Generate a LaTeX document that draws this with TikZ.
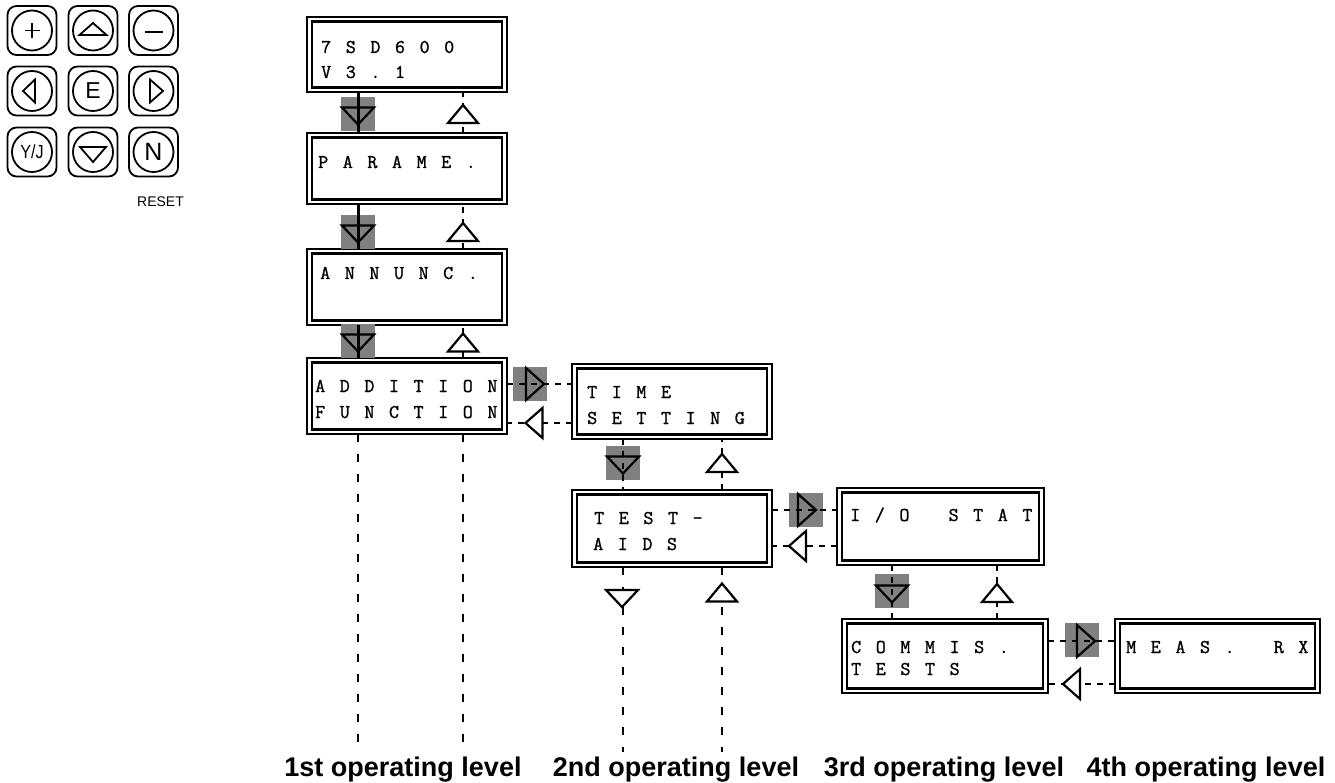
\documentclass[tikz,border=0pt]{standalone}
\usepackage{fontspec}
\setsansfont{Liberation Sans}
\newfontfamily\lcdfont{Latin Modern Mono}[FakeBold=1.2]
\usetikzlibrary{calc}
\makeatletter
\newcommand\lcdtext[1]{\@tfor\lcd@ch:=#1\do{\makebox[24.6pt][l]{\lcd@ch}}}
\makeatother
\tikzset{
  lcdouter/.style={draw, line width=1.7pt, inner sep=0, outer sep=0, anchor=north west},
  lcdinner/.style={line width=2.6pt},
  lcd/.style={font=\lcdfont\fontsize{19.5}{19.5}\selectfont, inner sep=0, anchor=base west},
  key/.style={draw, line width=1.8pt, rounded corners=9pt, minimum width=49pt, minimum height=49pt, inner sep=0},
  keyc/.style={draw, circle, line width=1.8pt, minimum size=40pt, inner sep=0, font=\sffamily\fontsize{23}{23}\selectfont},
  keysym/.style={line width=1.8pt, line join=miter},
  graysq/.style={fill=black!50, minimum size=34pt, inner sep=0, outer sep=0},
  tri/.style={line width=2.2pt, line join=miter},
  thickconn/.style={line width=3pt},
  dashconn/.style={line width=2.2pt, dash pattern=on 6pt off 6pt},
  levelline/.style={line width=2.2pt, dash pattern=on 8pt off 12pt},
  lbl/.style={font=\sffamily\bfseries\fontsize{27}{27}\selectfont, inner sep=0, anchor=base},
  pics/tdown/.style={code={\draw[tri,fill=#1] (-16,-8.5) -- (16,-8.5) -- (0,8.5) -- cycle;}},
  pics/tdown/.default=white,
  pics/tup/.style={code={\draw[tri,fill=#1] (-15,9) -- (15,9) -- (0,-9) -- cycle;}},
  pics/tup/.default=white,
  pics/tright/.style={code={\draw[tri,fill=#1] (-9,-16) -- (-9,16) -- (9,0) -- cycle;}},
  pics/tright/.default=white,
  pics/tleft/.style={code={\draw[tri,fill=#1] (8.5,-15) -- (8.5,15) -- (-8.5,0) -- cycle;}},
  pics/tleft/.default=white,
}
\newcommand\lcdbox[5]{%
  \node[lcdouter, minimum width=#4pt, minimum height=#5pt] (#1) at (#2,#3) {};
  \draw[lcdinner] ($(#1.north west)+(5,4.5)$) rectangle ($(#1.south east)+(-5,-4.5)$);}
\begin{document}
\begin{tikzpicture}[x=1pt,y=-1pt]
\useasboundingbox (0,0) rectangle (1335,783);

% ---------------- keypad ----------------
\foreach \n/\x/\y in {1/32/30.5,2/93/30.5,3/153.5/30.5,4/32/91,5/93/91,6/153.5/91,7/32/152,8/93/152,9/153.5/152}{
  \node[key] (k\n) at (\x,\y) {};
}
\node[keyc] (c1) at (k1) {};
\node[keyc] (c2) at (k2) {};
\node[keyc] (c3) at (k3) {};
\node[keyc] (c4) at (k4) {};
\node[keyc] (c5) at (k5) {E};
\node[keyc] (c6) at (k6) {};
\node[keyc,font=\sffamily\fontsize{19}{19}\selectfont] (c7) at (k7) {\scalebox{0.85}[1]{Y/J}};
\node[keyc] (c8) at (k8) {};
\node[keyc,font=\sffamily\fontsize{25}{25}\selectfont] (c9) at (k9) {N};
\draw[keysym] ($(c1)+(-7.5,0)$) -- ($(c1)+(7.5,0)$);
\draw[keysym] ($(c1)+(0,-7.5)$) -- ($(c1)+(0,7.5)$);
\draw[keysym] ($(c3)+(-9,1.5)$) -- ($(c3)+(9,1.5)$);
\draw[keysym] ($(c2)+(-13.5,4.5)$) -- ($(c2)+(13.5,4.5)$) -- ($(c2)+(0,-7.5)$) -- cycle;
\draw[keysym] ($(c4)+(-9,0)$) -- ($(c4)+(3,-11.5)$) -- ($(c4)+(3,11.5)$) -- cycle;
\draw[keysym] ($(c6)+(9.5,0)$) -- ($(c6)+(-3.5,-11.5)$) -- ($(c6)+(-3.5,11.5)$) -- cycle;
\draw[keysym] ($(c8)+(-13,-5)$) -- ($(c8)+(13,-5)$) -- ($(c8)+(0,10)$) -- cycle;
\node[font=\sffamily\fontsize{14}{14}\selectfont, inner sep=0] (reset) at (160.5,202) {RESET};

% ---------------- display boxes ----------------
\lcdbox{b1}{307}{17}{200}{75}
\lcdbox{b2}{307}{133}{200}{71}
\lcdbox{b3}{307}{249}{200}{76}
\lcdbox{b4}{307}{358}{200}{76}
\lcdbox{b5}{572}{364}{200}{75}
\lcdbox{b6}{572}{490}{200}{77}
\lcdbox{b7}{837}{488}{207}{77}
\lcdbox{b8}{842}{619}{206}{74}
\lcdbox{b9}{1115}{619}{205}{74}

\node[lcd] (t1a) at (321,53) {\lcdtext{7SD600}};
\node[lcd] (t1b) at (321,78) {\lcdtext{V3.1}};
\node[lcd] (t2) at (318,168) {\lcdtext{PARAME.}};
\node[lcd] (t3) at (320,279) {\lcdtext{ANNUNC.}};
\node[lcd] (t4a) at (315,392) {\lcdtext{ADDITION}};
\node[lcd] (t4b) at (315,418) {\lcdtext{FUNCTION}};
\node[lcd] (t5a) at (587,398) {\lcdtext{TIME}};
\node[lcd] (t5b) at (587,424) {\lcdtext{SETTING}};
\node[lcd] (t6a) at (594,524) {\lcdtext{TEST-}};
\node[lcd] (t6b) at (593,550) {\lcdtext{AIDS}};
\node[lcd] (t7) at (850,521) {\lcdtext{I/O~STAT}};
\node[lcd] (t8a) at (851,653) {\lcdtext{COMMIS.}};
\node[lcd] (t8b) at (851,675) {\lcdtext{TESTS}};
\node[lcd] (t9) at (1126,653) {\lcdtext{MEAS.~RX}};

% ---------------- gray key squares ----------------
\node[graysq] (g1) at (358,114) {};
\node[graysq] (g2) at (358,232) {};
\node[graysq] (g3) at (358,341) {};
\node[graysq] (gr1) at (530,384) {};
\node[graysq] (g4) at (623,463) {};
\node[graysq] (gr2) at (806,510) {};
\node[graysq] (g5) at (892,591) {};
\node[graysq] (gr3) at (1082,640) {};

% ---------------- connectors ----------------
% level 1
\draw[thickconn] ($(b1.south west)+(51,0)$) -- ($(b2.north west)+(51,0)$);
\draw[thickconn] ($(b2.south west)+(51,0)$) -- ($(b3.north west)+(51,0)$);
\draw[thickconn] ($(b3.south west)+(51,0)$) -- ($(b4.north west)+(51,0)$);
\draw[dashconn] ($(b2.north west)+(156,0)$) -- ($(b1.south west)+(156,0)$);
\draw[dashconn] ($(b3.north west)+(156,0)$) -- ($(b2.south west)+(156,0)$);
\draw[dashconn] ($(b4.north west)+(156,0)$) -- ($(b3.south west)+(156,0)$);
\coordinate (e1a) at (358,745);
\coordinate (e1b) at (463,745);
\draw[levelline] ($(b4.south west)+(51,0)$) -- (e1a);
\draw[levelline] ($(b4.south west)+(156,0)$) -- (e1b);
% level 1 <-> 2
\draw[dashconn,line width=2.6pt] ($(b4.north east)+(0,26)$) -- ($(b5.north west)+(0,20)$);
\draw[dashconn] ($(b5.north west)+(0,59)$) -- ($(b4.north east)+(0,65)$);
% level 2
\draw[dashconn] ($(b5.south west)+(51,0)$) -- ($(b6.north west)+(51,0)$);
\draw[dashconn] ($(b6.north west)+(150,0)$) -- ($(b5.south west)+(150,0)$);
\coordinate (e2a) at (623,752);
\coordinate (e2b) at (722,752);
\draw[levelline] ($(b6.south west)+(51,0)$) -- (e2a);
\draw[levelline] ($(b6.south west)+(150,0)$) -- (e2b);
% level 2 <-> 3
\draw[dashconn] ($(b6.north east)+(0,20)$) -- ($(b7.north west)+(0,22)$);
\draw[dashconn] ($(b7.north west)+(0,58)$) -- ($(b6.north east)+(0,56)$);
% level 3
\draw[dashconn] ($(b7.south west)+(55,0)$) -- ($(b8.north west)+(50,0)$);
\draw[dashconn] ($(b8.north west)+(155,0)$) -- ($(b7.south west)+(160,0)$);
% level 3 <-> 4
\draw[dashconn] ($(b8.north east)+(0,22)$) -- ($(b9.north west)+(0,22)$);
\draw[dashconn] ($(b9.north west)+(0,65)$) -- ($(b8.north east)+(0,65)$);

% ---------------- arrowheads ----------------
\path ($(g1)+(0,2)$) pic {tdown=none};
\path ($(g2)+(0,2)$) pic {tdown=none};
\path ($(g3)+(0,2)$) pic {tdown=none};
\path (463,114) pic {tup};
\path (463,232) pic {tup};
\path (463,342.5) pic {tup};
\path ($(gr1)+(5,0)$) pic {tright=none};
\path (534,423) pic {tleft};
\path ($(g4)+(0,2)$) pic {tdown=none};
\path (722,463) pic {tup};
\path (622,598.5) pic {tdown};
\path (722,592.5) pic {tup};
\path ($(gr2)+(1,0)$) pic {tright=none};
\path (797.5,546) pic {tleft};
\path ($(g5)+(0,3)$) pic {tdown=none};
\path (997,593) pic {tup};
\path ($(gr3)+(4,1)$) pic {tright=none};
\path (1071.5,684) pic {tleft};

% ---------------- labels ----------------
\node[lbl] (l1) at (403,776) {1st operating level};
\node[lbl] (l2) at (676,776) {2nd operating level};
\node[lbl] (l3) at (944,776) {3rd operating level};
\node[lbl] (l4) at (1206,776) {4th operating level};
\end{tikzpicture}
\end{document}
